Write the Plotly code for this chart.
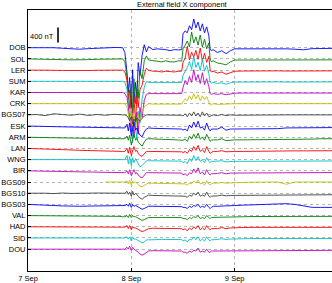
import plotly.graph_objects as go

# time in hours since 7 Sep 00:00
T_HOURS = [0, 2, 4, 6, 8, 10, 12, 14, 16, 18, 20, 21,
           22, 22.5, 23, 23.3, 23.6, 24, 24.3, 24.6, 25, 25.3, 25.6, 26, 26.5, 27, 27.5, 28,
           29, 30, 31, 32, 33, 34, 35, 35.7,
           36, 36.5, 37, 37.5, 38, 38.5, 39, 39.5, 40, 40.5, 41, 41.5, 42, 42.3, 42.6, 43,
           44, 45, 46, 47, 48, 50, 52, 54, 56, 58, 60, 62, 64, 66, 68, 70, 72]

STATIONS = ["DOB", "SOL", "LER", "SUM", "KAR", "CRK", "BGS07", "ESK", "ARM", "LAN",
            "WNG", "BIR", "BGS09", "BGS10", "BGS03", "VAL", "HAD", "SID", "DOU"]
OFFSET_STEP = 300   # nT between stacked traces
SCALE_NT = 400      # scale bar length
DAY_LABELS = ["7 Sep", "8 Sep", "9 Sep", "10 Sep"]

# external field X deviations, nT
DOB = [0, 5, 10, 0, -15, -25, -40, -25, -10, 0, 5, 5,
       0, -130, -670, -1200, -800, -1600, -590, -1460, -930, -1330, -400, -750, -210, 80, -110, 30,
       -50, -30, -30, -50, -80, -50, -60, -50,
       370, 450, 400, 590, 480, 770, 530, 690, 450, 640, 400, 560, 320, -30, -80, -50,
       -130, -80, -160, -80, -30, -30, -30, -15, -25, -25, -30, -40, -55, -25, -25, -15, -15]
SOL = [0, 0, -5, -10, -20, -25, -30, -20, -10, -5, 0, 0,
       0, -80, -480, -930, -1330, -670, -1460, -530, -1200, -800, -1060, -320, -530, -50, 80, -30,
       -50, -50, -80, -50, -80, -80, -50, -60,
       270, 370, 480, 320, 720, 430, 590, 370, 640, 320, 530, 270, 430, 0, -80, -50,
       -110, -130, -160, -80, -30, -30, -30, -25, -25, -25, -30, -30, -40, -30, -25, -25, -25]
LER = [0, 5, 0, -5, -10, -15, -15, -10, -5, 0, 0, 5,
       0, -50, -270, -800, -530, -1200, -1330, -750, -1380, -670, -1010, -530, -400, -110, 50, 0,
       -30, -30, -50, -30, -50, -50, -30, -30,
       210, 320, 640, 270, 480, 350, 530, 290, 590, 240, 450, 210, 370, 0, -50, -30,
       -80, -50, -110, -60, -30, -25, -20, -20, -20, -20, -25, -25, -30, -20, -20, -20, -20]
SUM = [0, 0, 5, 0, -5, -10, -10, -10, -5, 0, 0, 0,
       0, -30, -210, -530, -1060, -800, -1650, -930, -1280, -1540, -800, -1120, -480, -160, 0, -30,
       -30, -30, -30, -50, -50, -30, -30, -30,
       160, 270, 370, 530, 320, 660, 370, 510, 290, 590, 270, 430, 210, -30, -50, -30,
       -60, -40, -80, -40, -20, -20, -15, -15, -15, -15, -20, -20, -25, -15, -15, -15, -15]
KAR = [0, 0, -5, -5, -10, -15, -15, -10, -5, -5, 0, 0,
       0, -30, -130, -400, -750, -1060, -670, -1200, -800, -530, -1120, -400, -670, -210, -50, -30,
       -30, -30, -30, -40, -40, -30, -30, -30,
       130, 320, 210, 430, 270, 610, 320, 480, 240, 530, 210, 370, 160, -30, -50, -30,
       -50, -30, -60, -30, -20, -15, -15, -15, -15, -15, -15, -15, -20, -15, -15, -15, -15]
CRK = [0, 0, 0, 5, 0, -5, -5, 0, 0, 5, 5, 0,
       0, 0, -80, -270, -480, -210, -590, -320, -670, -400, -270, -480, -210, -80, -30, 0,
       -10, -10, -15, -15, -20, -15, -10, -10,
       50, 130, 80, 210, 110, 270, 130, 240, 80, 210, 110, 190, 50, -30, -30, 0,
       -20, -10, -20, -10, 0, 0, 0, 0, 0, 0, 0, 0, -5, 0, 0, 0, 0]
BGS07 = [0, 10, -20, 30, 10, -10, 20, -15, 10, -10, 15, 0,
         0, 0, -30, -80, -160, -50, -240, -110, -190, -80, -130, -160, -80, -30, 0, 0,
         -10, 0, -10, -15, -10, -15, -10, -10,
         -30, 30, -50, 50, -30, 80, -30, 50, -50, 80, -30, 50, -50, -30, -30, 0,
         -20, 10, -20, 0, -10, -5, 0, -5, 0, -5, 0, 0, -5, 0, 0, 0, 0]
ESK = [0, 0, -10, -15, -20, -25, -30, -40, -40, -50, -50, -50,
       -50, -50, 50, -130, 80, -270, -80, 110, -110, -50, -160, -240, -290, -160, -80, -50,
       -60, -60, -70, -80, -70, -80, -80, -80,
       -110, -80, -130, 30, -50, 110, -30, 130, -50, -30, -110, 80, -80, -130, -80, -80,
       -80, -30, -110, -80, -80, -80, -80, -70, -70, -70, -50, -50, -50, -50, -40, -40, -40]
ARM = [0, 0, -5, -10, -15, -20, -25, -30, -30, -35, -40, -40,
       -40, -40, 30, -80, 50, -210, -50, 80, -80, -30, -130, -190, -240, -130, -50, -40,
       -50, -50, -60, -60, -60, -70, -70, -70,
       -80, -50, -110, 30, -50, 80, -30, 110, -50, 0, -80, 80, -50, -110, -80, -70,
       -70, -40, -90, -70, -70, -70, -70, -60, -60, -60, -50, -50, -50, -50, -40, -40, -40]
LAN = [0, -5, -10, -20, -30, -40, -50, -60, -65, -70, -75, -75,
       -80, -80, 0, -130, 30, -190, -80, 50, -80, -50, -130, -190, -210, -130, -80, -80,
       -80, -80, -80, -90, -90, -90, -90, -90,
       -110, -80, -130, -30, -80, 50, -50, 80, -80, -30, -110, 50, -80, -130, -110, -80,
       -80, -60, -90, -80, -80, -80, -75, -75, -70, -70, -70, -65, -65, -60, -60, -60, -60]
WNG = [0, 0, 5, 0, -5, -5, -10, -10, -5, -10, -10, -10,
       -10, 0, 110, -110, 80, -160, 50, -80, 30, -50, -110, -190, -160, -80, -30, -30,
       -30, -30, -40, -40, -40, -40, -40, -40,
       -80, -50, -110, 30, -50, 110, -30, 80, -50, 0, -80, 50, -50, -80, -50, -50,
       -50, -30, -60, -50, -45, -45, -45, -40, -40, -40, -40, -40, -40, -40, -35, -35, -35]
BIR = [0, -5, -10, -15, -20, -25, -30, -35, -40, -45, -50, -50,
       -50, -50, 0, -80, 30, -130, -50, 30, -80, -50, -110, -160, -190, -110, -50, -50,
       -50, -50, -60, -60, -60, -60, -60, -60,
       -110, -80, -130, -50, -80, 50, -50, 80, -80, -30, -110, 30, -80, -110, -80, -80,
       -70, -50, -80, -60, -60, -55, -55, -50, -50, -50, -50, -50, -50, -45, -45, -45, -45]
BGS09 = [None, None, None, None, None, None, None, None, None, 0, 5, 0,
         0, 0, 30, -50, 50, -80, 30, -30, 0, -30, -80, -110, -130, -80, -50, -30,
         -30, -30, -30, -40, -40, -40, -30, -30,
         -50, -50, -80, -30, -50, 30, -30, 50, -50, -30, -80, 30, -50, -80, -50, -30,
         -30, -10, -30, -20, -10, -10, -5, -5, 0, 0, -60, 0, 0, 0, 0, 0, 0]
BGS10 = [0, 10, 0, -10, 5, -5, -10, 0, 5, -5, 0, 0,
         0, 0, 50, -30, 30, -80, 50, -50, 0, -30, -80, -130, -160, -110, -80, -50,
         -60, -60, -60, -70, -60, -70, -70, -70,
         -80, -80, -110, -50, -80, 0, -50, 30, -80, -50, -80, 30, -80, -110, -80, -80,
         -70, -50, -70, -60, -60, -60, -55, -55, -50, -50, -50, -45, -45, -40, -40, -40, -40]
BGS03 = [0, -5, -15, -30, -40, -50, -50, -45, -40, -35, -30, -30,
         -30, -30, 0, -50, 30, -80, 0, -50, -30, -50, -80, -110, -130, -110, -80, -50,
         -50, -50, -60, -60, -60, -60, -60, -60,
         -80, -80, -110, -50, -80, -30, -50, 0, -80, -50, -80, 0, -80, -110, -80, -50,
         -50, -40, -50, -40, -30, -20, -10, 0, 10, 20, 20, 0, -50, -80, -80, -80, -80]
VAL = [0, 0, -5, -10, -10, -15, -20, -20, -15, -15, -20, -20,
       -30, -30, 0, -50, 30, -50, 0, -30, -30, -50, -80, -110, -130, -110, -80, -50,
       -50, -40, -50, -50, -50, -50, -50, -50,
       -80, -80, -110, -50, -80, -30, -50, 0, -80, -50, -80, 0, -50, -80, -50, -50,
       -50, -30, -50, -40, -30, -30, -25, -25, -20, -20, -20, -20, -20, -20, -20, -20, -20]
HAD = [0, 0, -5, -10, -15, -15, -20, -15, -15, -10, -10, -10,
       -10, -10, 30, -50, 30, -80, 0, -30, -30, -50, -80, -110, -130, -110, -80, -50,
       -40, -40, -40, -50, -40, -50, -50, -50,
       -80, -50, -110, -30, -80, 0, -50, 30, -80, -30, -80, 30, -50, -80, -50, -50,
       -50, -20, -50, -30, -20, -20, -15, -15, -15, -15, -15, -15, -15, -15, -15, -15, -15]
SID = [0, 0, -5, -5, -10, -10, -15, -10, -10, -5, -5, -5,
       -10, 0, 30, -30, 30, -80, 30, -30, -30, -50, -80, -110, -130, -110, -50, -50,
       -40, -40, -40, -40, -40, -40, -40, -40,
       -80, -50, -110, -30, -50, 30, -50, 30, -80, -30, -80, 30, -50, -80, -50, -50,
       -40, -20, -40, -30, -20, -20, -15, -15, -15, -15, -15, -15, -15, -15, -15, -15, -15]
DOU = [0, 0, -5, -5, -10, -10, -10, -5, -5, 0, 0, 0,
       0, 0, 50, 0, 80, -30, 50, 0, -30, -50, -80, -130, -160, -130, -80, -50,
       -40, -40, -40, -50, -50, -50, -50, -50,
       -80, -80, -110, -50, -80, -30, -50, 30, -80, -50, -80, 0, -80, -80, -50, -50,
       -50, -30, -50, -40, -30, -30, -30, -30, -30, -30, -30, -30, -30, -30, -30, -30, -30]

SERIES = [DOB, SOL, LER, SUM, KAR, CRK, BGS07, ESK, ARM, LAN,
          WNG, BIR, BGS09, BGS10, BGS03, VAL, HAD, SID, DOU]

COLORS = ["#0000ff", "#008000", "#ff0000", "#00bfbf", "#bf00bf", "#bfbf00", "#404040"]

FONT = "Liberation Sans, Arial, sans-serif"

fig = go.Figure()
offsets = []
for i, (name, vals) in enumerate(zip(STATIONS, SERIES)):
    off = -i * OFFSET_STEP
    offsets.append(off)
    y = [None if v is None else off + v for v in vals]
    fig.add_trace(go.Scatter(x=T_HOURS[:len(y)], y=y, mode="lines", name=name,
                             line=dict(color=COLORS[i % len(COLORS)], width=0.9),
                             showlegend=False, hoverinfo="skip"))

# geometry: plot spans 28..338 px for 3 days; image cuts at 332
X_MAX = 72 * (332 - 28) / (338 - 28)
Y_TOP = 1011
Y_BOT = -5985

# scale bar
fig.add_shape(type="line", x0=6.97, x1=6.97, y0=141, y1=141 + SCALE_NT,
              line=dict(color="black", width=1.6))
fig.add_annotation(x=3.3, y=293, text="400 nT", showarrow=False,
                   font=dict(family=FONT, size=7.5, color="black"),
                   xanchor="center", yanchor="middle")

# title
fig.add_annotation(xref="paper", yref="paper", x=(183 - 28) / 304, y=1 + 6 / 263,
                   text="External field X component", showarrow=False,
                   font=dict(family=FONT, size=7.5, color="black"),
                   xanchor="center", yanchor="middle")

# cut-off 10 Sep label
fig.add_annotation(xref="x", yref="paper", x=72, y=-6 / 263, text=DAY_LABELS[3],
                   showarrow=False, font=dict(family=FONT, size=7.5, color="black"),
                   xanchor="center", yanchor="middle")

fig.update_layout(
    width=332, height=283,
    margin=dict(l=28, r=0, t=10, b=10),
    plot_bgcolor="white", paper_bgcolor="white",
    font=dict(family=FONT, size=7.5, color="black"),
)
fig.update_xaxes(range=[0, X_MAX], tickvals=[0, 24, 48], ticktext=DAY_LABELS[:3],
                 showgrid=True, gridcolor="#b4b4b4", griddash="dot", gridwidth=1,
                 showline=True, linecolor="black", linewidth=1, mirror=True,
                 ticks="inside", ticklen=3, tickcolor="black", zeroline=False,
                 tickfont=dict(family=FONT, size=7.5, color="black"))
fig.update_yaxes(range=[Y_BOT, Y_TOP], tickvals=offsets, ticktext=STATIONS,
                 showgrid=True, gridcolor="#b4b4b4", griddash="dot", gridwidth=1,
                 showline=True, linecolor="black", linewidth=1, mirror=False,
                 ticks="inside", ticklen=3, tickcolor="black", zeroline=False,
                 tickfont=dict(family=FONT, size=7.5, color="black"))

for n, s in zip(STATIONS, SERIES):
    if len(s) != len(T_HOURS):
        print("length mismatch", n, len(s))

fig.write_html("out.html")
